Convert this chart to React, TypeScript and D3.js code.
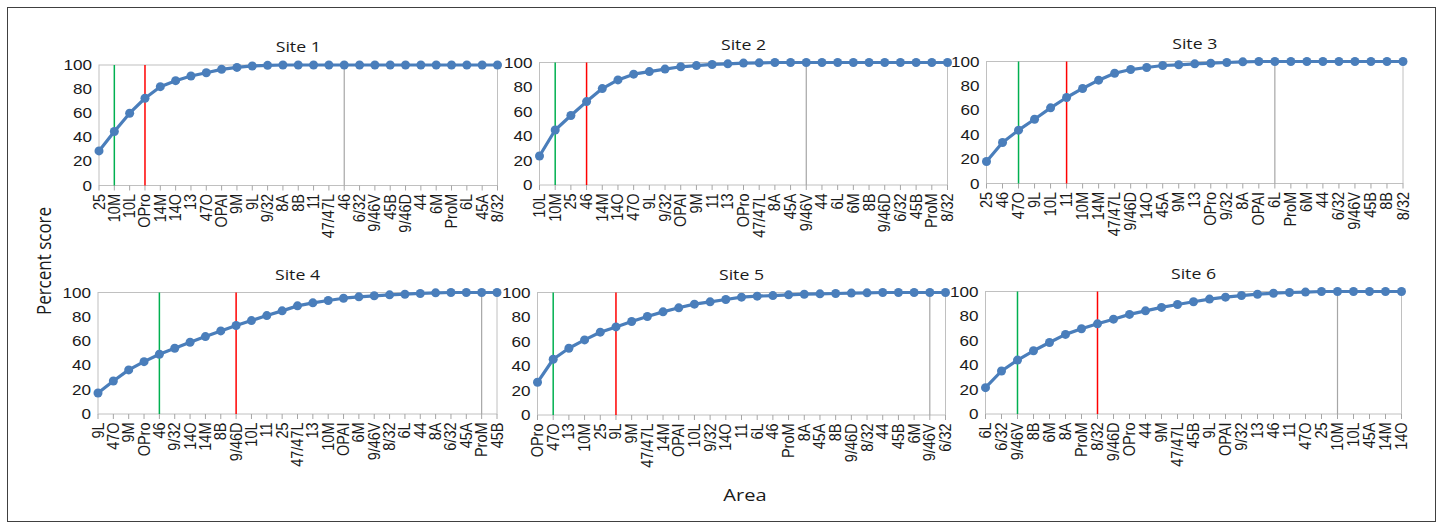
import * as d3 from "d3";
import { useEffect, useRef } from "react";

const siteNames = ["Site 1", "Site 2", "Site 3", "Site 4", "Site 5", "Site 6"];

const site1Areas = ["25", "10M", "10L", "OPro", "14M", "14O", "13", "47O", "OPAI", "9M", "9L", "9/32", "8A", "8B", "11", "47/47L", "46", "6/32", "9/46V", "45B", "9/46D", "44", "6M", "ProM", "6L", "45A", "8/32"];
const site1Scores = [28.7, 44.8, 60, 72.4, 82, 87, 90.9, 93.6, 96.4, 98, 99.2, 99.7, 100, 100, 100, 100, 100, 100, 100, 100, 100, 100, 100, 100, 100, 100, 100];

const site2Areas = ["10L", "10M", "25", "46", "14M", "14O", "47O", "9L", "9/32", "OPAI", "9M", "11", "13", "OPro", "47/47L", "8A", "45A", "9/46V", "44", "6L", "6M", "8B", "9/46D", "6/32", "45B", "ProM", "8/32"];
const site2Scores = [23.7, 44.9, 56.7, 68.1, 78.7, 85.8, 90.5, 92.6, 94.6, 96.5, 97.5, 98.4, 98.9, 99.5, 99.7, 100, 100, 100, 100, 100, 100, 100, 100, 100, 100, 100, 100];

const site3Areas = ["25", "46", "47O", "9L", "10L", "11", "10M", "14M", "47/47L", "9/46D", "14O", "45A", "9M", "13", "OPro", "9/32", "8A", "OPAI", "6L", "ProM", "6M", "44", "6/32", "9/46V", "45B", "8B", "8/32"];
const site3Scores = [18, 33.6, 43.7, 52.7, 62, 70.5, 77.9, 84.7, 90.4, 93.4, 95.1, 96.7, 97.3, 98.1, 98.6, 99.2, 99.7, 100, 100, 100, 100, 100, 100, 100, 100, 100, 100];

const site4Areas = ["9L", "47O", "9M", "OPro", "46", "9/32", "14O", "14M", "8B", "9/46D", "10L", "11", "25", "47/47L", "13", "10M", "OPAI", "6M", "9/46V", "8/32", "6L", "44", "8A", "6/32", "45A", "ProM", "45B"];
const site4Scores = [17.3, 27.2, 36.3, 43.1, 49.2, 54.1, 59.1, 63.7, 68.4, 72.8, 76.9, 81, 84.9, 89, 91.5, 93.4, 95.3, 96.4, 97.3, 98.1, 98.6, 99.2, 99.7, 100, 100, 100, 100];

const site5Areas = ["OPro", "47O", "13", "10M", "25", "9L", "9M", "47/47L", "14M", "OPAI", "10L", "9/32", "14O", "11", "6L", "46", "ProM", "8A", "45A", "8B", "9/46D", "8/32", "44", "45B", "6M", "9/46V", "6/32"];
const site5Scores = [26.7, 45.5, 54.5, 61.3, 67.6, 71.9, 76.3, 80.4, 84.2, 87.5, 90.5, 92.4, 94.3, 96.2, 97, 97.5, 98.1, 98.6, 98.9, 99.2, 99.5, 99.7, 100, 100, 100, 100, 100];

const site6Areas = ["6L", "6/32", "9/46V", "8B", "6M", "8A", "ProM", "8/32", "9/46D", "OPro", "44", "9M", "47/47L", "45B", "9L", "OPAI", "9/32", "13", "46", "11", "47O", "25", "10M", "10L", "45A", "14M", "14O"];
const site6Scores = [21.5, 35.1, 44, 51.6, 58.4, 65, 69.6, 73.6, 77.4, 81.3, 84.2, 87, 89.4, 91.6, 93.8, 95.4, 96.7, 97.8, 98.6, 99.2, 99.5, 100, 100, 100, 100, 100, 100];

// marker lines per site: green, red, grey (area labels)
const greenMarks = ["10M", "10M", "47O", "46", "47O", "9/46V"];
const redMarks = ["OPro", "46", "11", "9/46D", "9L", "8/32"];
const greyMarks = ["46", "9/46V", "6L", "ProM", "9/46V", "10M"];

const yTicks = [0, 20, 40, 60, 80, 100];

const allAreas = [site1Areas, site2Areas, site3Areas, site4Areas, site5Areas, site6Areas];
const allScores = [site1Scores, site2Scores, site3Scores, site4Scores, site5Scores, site6Scores];

// plot boxes [left, right, top, bottom]
const boxes = [
    [99, 497.5, 65, 185.5],
    [539.5, 947.5, 62.5, 185],
    [986.5, 1403, 61.5, 183.5],
    [98, 497, 292.5, 414],
    [537.5, 945.5, 292.5, 415],
    [985.5, 1401.5, 291.5, 414],
];

const blue = "#4A7EBB";
const sx = 1.18;

export default function App() {
    const ref = useRef(null);
    const width = 1443, height = 529;

    useEffect(() => {
        const svg = d3.select(ref.current);
        svg.selectAll("*").remove();

        svg.append("rect")
            .attr("x", 7.5).attr("y", 7.5)
            .attr("width", 1428).attr("height", 514)
            .attr("fill", "white")
            .attr("stroke", "#404040")
            .attr("stroke-width", 1);

        siteNames.forEach((name, s) => {
            const [l, r, t, b] = boxes[s];
            const areas = allAreas[s];
            const scores = allScores[s];
            const x = d3.scalePoint<string>().domain(areas).range([l, r]);
            const y = d3.scaleLinear().domain([0, 100]).range([b, t]);
            const g = svg.append("g");

            // plot frame
            g.append("rect")
                .attr("x", l).attr("y", t)
                .attr("width", r - l).attr("height", b - t)
                .attr("fill", "none")
                .attr("stroke", "#C0C0C0")
                .attr("stroke-width", 1);

            // x ticks
            g.selectAll(".xt")
                .data(areas)
                .join("line")
                .attr("x1", d => x(d)!).attr("x2", d => x(d)!)
                .attr("y1", b).attr("y2", b + 5)
                .attr("stroke", "#A6A6A6");

            // x labels
            g.selectAll(".xl")
                .data(areas)
                .join("text")
                .attr("transform", d => `translate(${x(d)! + 5.5},${b + 8.5}) scale(1.12,1) rotate(-90)`)
                .attr("text-anchor", "end")
                .style("font-family", "'Liberation Sans', Arial, sans-serif")
                .style("font-size", "14.5px")
                .attr("fill", "#1a1a1a")
                .text(d => d);

            // y labels
            g.selectAll(".yl")
                .data(yTicks)
                .join("text")
                .attr("transform", d => `translate(${l - 7},${y(d) + 5}) scale(${sx},1)`)
                .attr("text-anchor", "end")
                .style("font-family", "'Liberation Sans', Arial, sans-serif")
                .style("font-size", "14.5px")
                .attr("fill", "#1a1a1a")
                .text(d => d);

            // marker lines
            const marks = [
                { a: greyMarks[s], c: "#A6A6A6", w: 1.2 },
                { a: greenMarks[s], c: "#00B050", w: 1.5 },
                { a: redMarks[s], c: "#FF0000", w: 1.5 },
            ];
            g.selectAll(".mk")
                .data(marks)
                .join("line")
                .attr("x1", d => x(d.a)!).attr("x2", d => x(d.a)!)
                .attr("y1", t).attr("y2", b)
                .attr("stroke", d => d.c)
                .attr("stroke-width", d => d.w);

            // line
            const line = d3.line<number>()
                .x((_d, i) => x(areas[i])!)
                .y(d => y(d));
            g.append("path")
                .attr("d", line(scores)!)
                .attr("fill", "none")
                .attr("stroke", blue)
                .attr("stroke-width", 3.2)
                .attr("stroke-linejoin", "round");

            g.selectAll(".pt")
                .data(scores)
                .join("circle")
                .attr("cx", (_d, i) => x(areas[i])!)
                .attr("cy", d => y(d))
                .attr("r", 4.5)
                .attr("fill", blue);

            // title
            g.append("text")
                .attr("transform", `translate(${(l + r) / 2},${t - 13}) scale(${sx},1)`)
                .attr("text-anchor", "middle")
                .style("font-family", "'Open Sans', sans-serif")
                .style("font-size", "15px")
                .attr("fill", "#1a1a1a")
                .text(name);
        });

        svg.append("text")
            .attr("transform", `translate(51,261) scale(1.15,1) rotate(-90)`)
            .attr("text-anchor", "middle")
            .style("font-family", "'Open Sans', sans-serif")
            .style("font-size", "17px")
            .attr("fill", "#1a1a1a")
            .text("Percent score");

        svg.append("text")
            .attr("transform", `translate(745,501) scale(${sx},1)`)
            .attr("text-anchor", "middle")
            .style("font-family", "'Open Sans', sans-serif")
            .style("font-size", "17px")
            .attr("fill", "#1a1a1a")
            .text("Area");
    }, []);

    return (
        <svg ref={ref} width={width} height={height}
            style={{ position: "absolute", left: 0, top: 0, display: "block" }}>
        </svg>
    );
}
